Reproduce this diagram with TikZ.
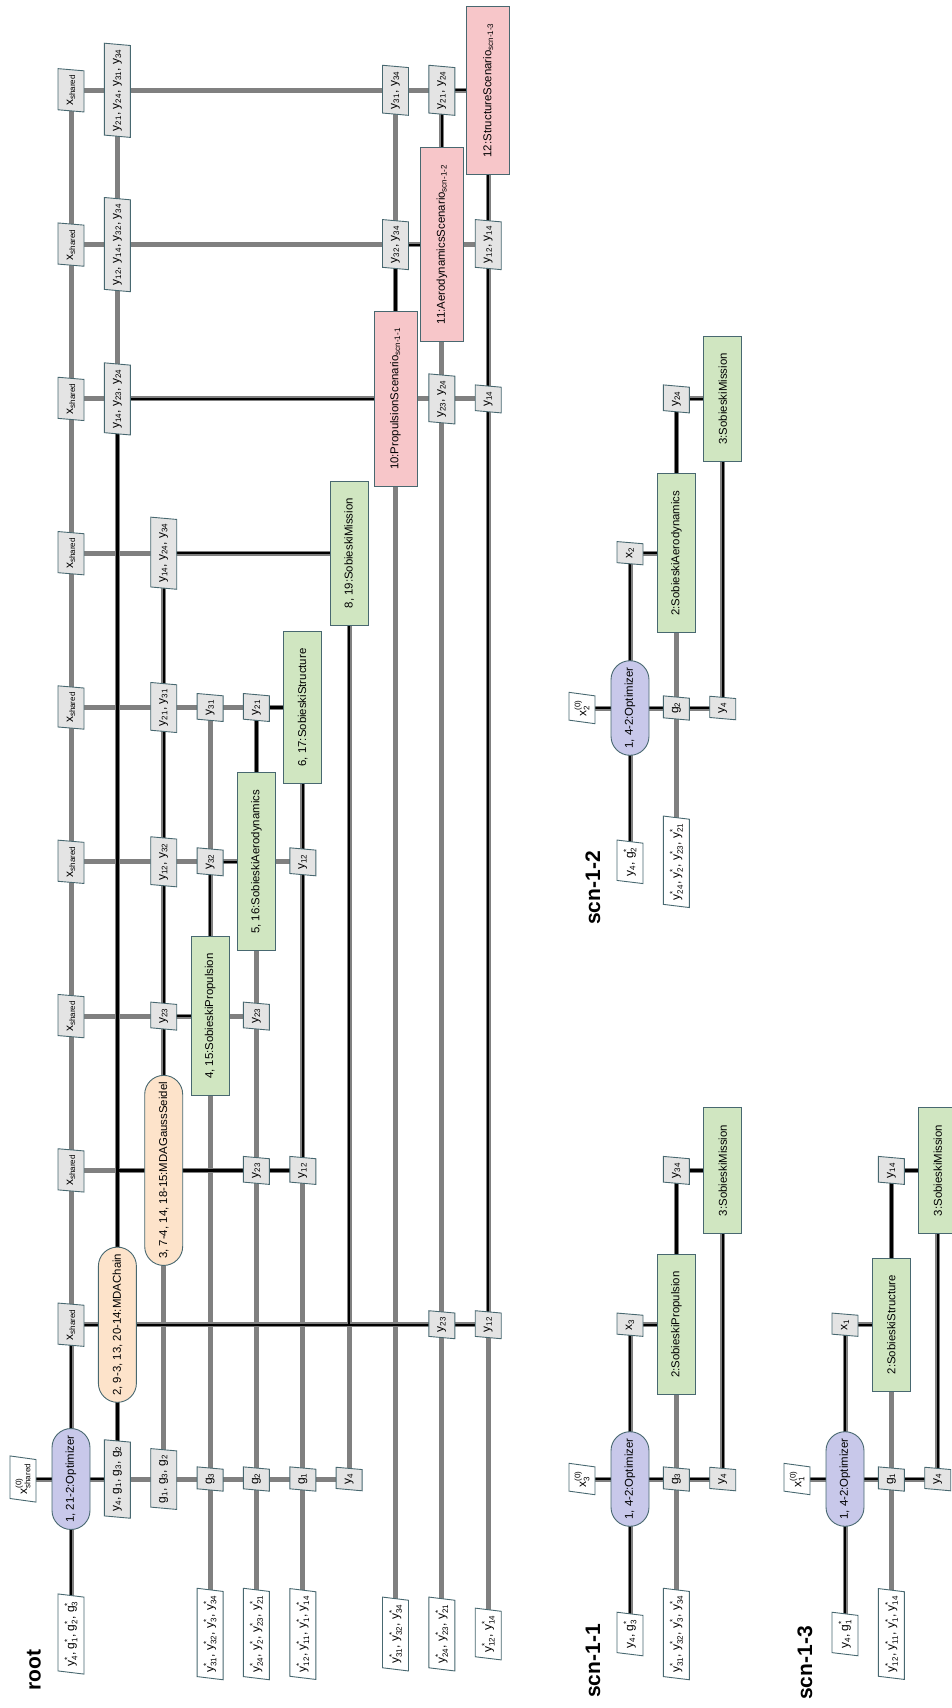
\documentclass[tikz,border=0pt]{standalone}
\usepackage{fontspec}
\setmainfont{Liberation Sans}
\usetikzlibrary{shapes.geometric,shapes.misc}
\definecolor{optc}{RGB}{200,200,234}
\definecolor{mdac}{RGB}{253,227,202}
\definecolor{discc}{RGB}{208,230,193}
\definecolor{scnc}{RGB}{247,198,201}
\definecolor{datc}{RGB}{228,228,228}
\definecolor{bordc}{RGB}{72,104,112}
\definecolor{linec}{RGB}{128,128,128}
\pgfdeclarelayer{glay}\pgfdeclarelayer{blay}
\pgfsetlayers{glay,blay,main}
\newcommand\lab{\fontsize{11.4}{13}\selectfont}
\newcommand\dlab{\fontsize{12}{13}\selectfont}
\newcommand\sst[1]{\mbox{\fontsize{8}{9}\selectfont #1}}
\newcommand\yv[1]{y\ensuremath{_{\sst{#1}}}}
\newcommand\gv[1]{g\ensuremath{_{\sst{#1}}}}
\newcommand\xv[1]{x\ensuremath{_{\sst{#1}}}}
\newcommand\yst[1]{y\ensuremath{^{\sst{*}}_{\sst{#1}}}}
\newcommand\gst[1]{g\ensuremath{^{\sst{*}}_{\sst{#1}}}}
\newcommand\xz[1]{x\ensuremath{^{\sst{(0)}}_{\sst{#1}}}}
\newcommand\xsh{\xv{shared}}
\tikzset{
 xbase/.style={draw=bordc, line width=0.9pt, rotate=90, font=\lab, text=black},
 cmpb/.style={xbase, minimum height=38, inner xsep=17, inner ysep=2},
 optb/.style={cmpb, rounded rectangle, fill=optc, inner xsep=6},
 mdab/.style={cmpb, rounded rectangle, fill=mdac, inner xsep=6},
 discb/.style={cmpb, rectangle, fill=discc},
 scnb/.style={cmpb, rectangle, fill=scnc, minimum height=43},
 datb/.style={xbase, font=\dlab, trapezium, trapezium left angle=78, trapezium right angle=102, trapezium stretches=true, fill=datc, minimum height=26, inner xsep=4, inner ysep=1},
 iob/.style={datb, fill=white},
 gl/.style={draw=linec, line width=5pt},
 bl/.style={draw=black, line width=2.2pt},
 ttl/.style={rotate=90, font=\fontsize{21}{24}\selectfont\bfseries, inner sep=0pt},
}
\begin{document}
\begin{tikzpicture}[x=1pt,y=-1pt]
\useasboundingbox (0,0) rectangle (952,1708);
% ---------- root ----------
\node[ttl] (troot) at (34,1670) {root};
\node[iob] (in0) at (23,1479) {\xz{shared}};
\node[optb] (O) at (71,1479) {1, 21-2:Optimizer};
\node[mdab] (M) at (117.4,1324.7) {2, 9-3, 13, 20-14:MDAChain};
\node[mdab] (G) at (163.7,1170.4) {3, 7-4, 14, 18-15:MDAGaussSeidel};
\node[discb] (P) at (210.1,1016.1) {4, 15:SobieskiPropulsion};
\node[discb] (A) at (256.4,861.8) {5, 16:SobieskiAerodynamics};
\node[discb] (S) at (302.8,707.5) {6, 17:SobieskiStructure};
\node[discb] (Mi) at (349.1,553.2) {8, 19:SobieskiMission};
\node[scnb] (PS) at (395.5,398.9) {10:PropulsionScenario\ensuremath{_{\sst{scn-1-1}}}};
\node[scnb] (AS) at (441.8,244.6) {11:AerodynamicsScenario\ensuremath{_{\sst{scn-1-2}}}};
\node[scnb] (SS) at (488.2,90.3) {12:StructureScenario\ensuremath{_{\sst{scn-1-3}}}};
% row 0
\node[datb] (x01) at (71,1324.7) {\xsh};
\node[datb] (x02) at (71,1170.4) {\xsh};
\node[datb] (x03) at (71,1016.1) {\xsh};
\node[datb] (x04) at (71,861.8) {\xsh};
\node[datb] (x05) at (71,707.5) {\xsh};
\node[datb] (x06) at (71,553.2) {\xsh};
\node[datb] (x07) at (71,398.9) {\xsh};
\node[datb] (x08) at (71,244.6) {\xsh};
\node[datb] (x09) at (71,90.3) {\xsh};
\node[iob] (o0) at (71,1634) {\yst{4}, \gst{1}, \gst{2}, \gst{3}};
% row 1
\node[datb] (d10) at (117.4,1479) {\yv{4}, \gv{1}, \gv{3}, \gv{2}};
\node[datb] (d17) at (117.4,398.9) {\yv{14}, \yv{23}, \yv{24}};
\node[datb] (d18) at (117.4,244.6) {\yv{12}, \yv{14}, \yv{32}, \yv{34}};
\node[datb] (d19) at (117.4,90.3) {\yv{21}, \yv{24}, \yv{31}, \yv{34}};
% row 2
\node[datb] (d20) at (163.7,1479) {\gv{1}, \gv{3}, \gv{2}};
\node[datb] (d23) at (163.7,1016.1) {\yv{23}};
\node[datb] (d24) at (163.7,861.8) {\yv{12}, \yv{32}};
\node[datb] (d25) at (163.7,707.5) {\yv{21}, \yv{31}};
\node[datb] (d26) at (163.7,553.2) {\yv{14}, \yv{24}, \yv{34}};
% row 3
\node[datb] (d30) at (210.1,1479) {\gv{3}};
\node[datb] (d34) at (210.1,861.8) {\yv{32}};
\node[datb] (d35) at (210.1,707.5) {\yv{31}};
\node[iob] (o3) at (210.1,1634) {\yst{31}, \yst{32}, \yst{3}, \yst{34}};
% row 4
\node[datb] (d40) at (256.4,1479) {\gv{2}};
\node[datb] (d42) at (256.4,1170.4) {\yv{23}};
\node[datb] (d43) at (256.4,1016.1) {\yv{23}};
\node[datb] (d45) at (256.4,707.5) {\yv{21}};
\node[iob] (o4) at (256.4,1634) {\yst{24}, \yst{2}, \yst{23}, \yst{21}};
% row 5
\node[datb] (d50) at (302.8,1479) {\gv{1}};
\node[datb] (d52) at (302.8,1170.4) {\yv{12}};
\node[datb] (d54) at (302.8,861.8) {\yv{12}};
\node[iob] (o5) at (302.8,1634) {\yst{12}, \yst{11}, \yst{1}, \yst{14}};
% row 6
\node[datb] (d60) at (349.1,1479) {\yv{4}};
% row 7
\node[datb] (d78) at (395.5,244.6) {\yv{32}, \yv{34}};
\node[datb] (d79) at (395.5,90.3) {\yv{31}, \yv{34}};
\node[iob] (o7) at (395.5,1634) {\yst{31}, \yst{32}, \yst{34}};
% row 8
\node[datb] (d81) at (441.8,1324.7) {\yv{23}};
\node[datb] (d87) at (441.8,398.9) {\yv{23}, \yv{24}};
\node[datb] (d89) at (441.8,90.3) {\yv{21}, \yv{24}};
\node[iob] (o8) at (441.8,1634) {\yst{24}, \yst{23}, \yst{21}};
% row 9
\node[datb] (d91) at (488.2,1324.7) {\yv{12}};
\node[datb] (d97) at (488.2,398.9) {\yv{14}};
\node[datb] (d98) at (488.2,244.6) {\yv{12}, \yv{14}};
\node[iob] (o9) at (488.2,1634) {\yst{12}, \yst{14}};

\begin{pgfonlayer}{glay}
 \draw[gl] (in0.center) -- (O.center);
 \draw[gl] (O.center) -- (x09.center);
 \draw[gl] (O.center) -- (o0.center);
 \foreach \j/\c in {1/M,2/G,3/P,4/A,5/S,6/Mi,7/PS,8/AS,9/SS} \draw[gl] (x0\j.center) -- (\c.center);
 \draw[gl] (O.center) -- (d60.center);
 \draw[gl] (M.center) -- (d91.center);
 \draw[gl] (G.center) -- (d52.center);
 \draw[gl] (P.center) -- (d43.center);
 \draw[gl] (A.center) -- (d54.center);
 \draw[gl] (PS.center) -- (d97.center);
 \draw[gl] (AS.center) -- (d98.center);
 \draw[gl] (M.center) -- (d10.center);
 \draw[gl] (M.center) -- (d19.center);
 \draw[gl] (G.center) -- (d20.center);
 \draw[gl] (G.center) -- (d26.center);
 \draw[gl] (P.center) -- (o3.center);
 \draw[gl] (P.center) -- (d35.center);
 \draw[gl] (A.center) -- (o4.center);
 \draw[gl] (A.center) -- (d45.center);
 \draw[gl] (S.center) -- (o5.center);
 \draw[gl] (Mi.center) -- (d60.center);
 \draw[gl] (PS.center) -- (o7.center);
 \draw[gl] (PS.center) -- (d79.center);
 \draw[gl] (AS.center) -- (o8.center);
 \draw[gl] (AS.center) -- (d89.center);
 \draw[gl] (SS.center) -- (o9.center);
\end{pgfonlayer}
\begin{pgfonlayer}{blay}
 \draw[bl] (in0.center) -- (O.center);
 \draw[bl] (O.center) -- (o0.center);
 \draw[bl] (O.center) -- (x01.center) -- (M.center);
 \draw[bl] (M.center) -- (d10.center) -- (O.center);
 \draw[bl] (M.center) |- (G.center);
 \draw[bl] (M.center) -- (d17.center) -- (PS.center);
 \draw[bl] (G.center) -- (d23.center) -- (P.center);
 \draw[bl] (G.center) -- (d26.center) -- (Mi.center);
 \draw[bl] (P.center) -- (d34.center) -- (A.center);
 \draw[bl] (A.center) -- (d45.center) -- (S.center);
 \draw[bl] (S.center) -- (d52.center) -- (G.center);
 \draw[bl] (Mi.center) |- (M.center);
 \draw[bl] (PS.center) -- (d78.center) -- (AS.center);
 \draw[bl] (AS.center) -- (d89.center) -- (SS.center);
 \draw[bl] (SS.center) -- (d91.center) -- (M.center);
\end{pgfonlayer}

% ---------- scn-1-2 ----------
\node[ttl] (t12) at (593,888) {scn-1-2};
\node[iob] (bin) at (582,708) {\xz{2}};
\node[optb] (bO) at (630,708) {1, 4-2:Optimizer};
\node[discb] (bA) at (676.4,553.2) {2:SobieskiAerodynamics};
\node[discb] (bM) at (722.7,398.9) {3:SobieskiMission};
\node[datb] (bx) at (630,553.2) {\xv{2}};
\node[datb] (by) at (676.4,398.9) {\yv{24}};
\node[datb] (bg) at (676.4,708) {\gv{2}};
\node[datb] (b4) at (722.7,708) {\yv{4}};
\node[iob] (bo0) at (630,861.8) {\yv{4}, \gst{2}};
\node[iob] (bo1) at (676.4,861.8) {\yst{24}, \yst{2}, \yst{23}, \yst{21}};
% ---------- scn-1-1 ----------
\node[ttl] (t11) at (593,1661) {scn-1-1};
\node[iob] (cin) at (582,1479) {\xz{3}};
\node[optb] (cO) at (630,1479) {1, 4-2:Optimizer};
\node[discb] (cA) at (676.4,1324.7) {2:SobieskiPropulsion};
\node[discb] (cM) at (722.7,1170.4) {3:SobieskiMission};
\node[datb] (cx) at (630,1324.7) {\xv{3}};
\node[datb] (cy) at (676.4,1170.4) {\yv{34}};
\node[datb] (cg) at (676.4,1479) {\gv{3}};
\node[datb] (c4) at (722.7,1479) {\yv{4}};
\node[iob] (co0) at (630,1634) {\yv{4}, \gst{3}};
\node[iob] (co1) at (676.4,1634) {\yst{31}, \yst{32}, \yst{3}, \yst{34}};
% ---------- scn-1-3 ----------
\node[ttl] (t13) at (805,1663) {scn-1-3};
\node[iob] (ein) at (797,1479) {\xz{1}};
\node[optb] (eO) at (845,1479) {1, 4-2:Optimizer};
\node[discb] (eA) at (891.4,1324.7) {2:SobieskiStructure};
\node[discb] (eM) at (937.7,1170.4) {3:SobieskiMission};
\node[datb] (ex) at (845,1324.7) {\xv{1}};
\node[datb] (ey) at (891.4,1170.4) {\yv{14}};
\node[datb] (eg) at (891.4,1479) {\gv{1}};
\node[datb] (e4) at (937.7,1479) {\yv{4}};
\node[iob] (eo0) at (845,1634) {\yv{4}, \gst{1}};
\node[iob] (eo1) at (891.4,1634) {\yst{12}, \yst{11}, \yst{1}, \yst{14}};

\begin{pgfonlayer}{glay}
 \foreach \p in {b,c,e}{
  \draw[gl] (\p in.center) -- (\p O.center);
  \draw[gl] (\p O.center) -- (\p x.center) -- (\p A.center);
  \draw[gl] (\p O.center) -- (\p 4.center);
  \draw[gl] (\p O.center) -- (\p o0.center);
  \draw[gl] (\p A.center) -- (\p y.center) -- (\p M.center);
  \draw[gl] (\p A.center) -- (\p o1.center);
  \draw[gl] (\p M.center) -- (\p 4.center);
 }
\end{pgfonlayer}
\begin{pgfonlayer}{blay}
 \foreach \p in {b,c,e}{
  \draw[bl] (\p in.center) -- (\p O.center);
  \draw[bl] (\p O.center) -- (\p o0.center);
  \draw[bl] (\p O.center) -- (\p x.center) -- (\p A.center);
  \draw[bl] (\p A.center) -- (\p y.center) -- (\p M.center);
  \draw[bl] (\p M.center) -- (\p 4.center) -- (\p O.center);
 }
\end{pgfonlayer}
\end{tikzpicture}
\end{document}
